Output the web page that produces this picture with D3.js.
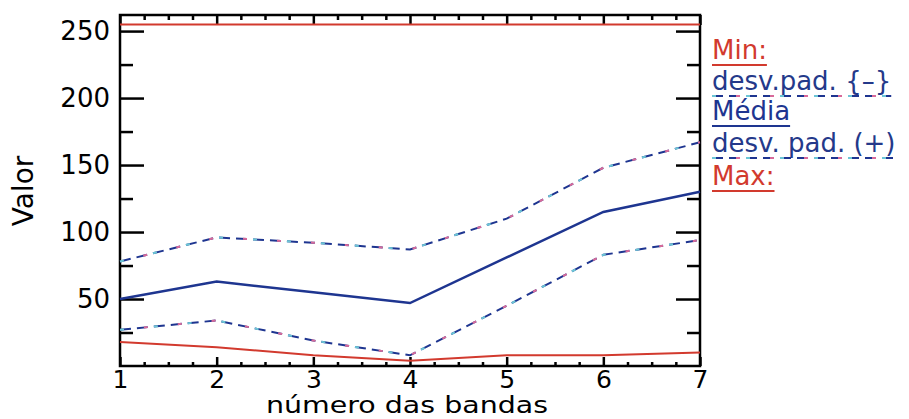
<!DOCTYPE html>
<html>
<head>
<meta charset="utf-8">
<script src="https://cdn.jsdelivr.net/npm/d3@7"></script>
<style>
  html, body { margin: 0; padding: 0; background: #fff; }
  svg { display: block; }
  text { font-family: "DejaVu Sans", sans-serif; }
</style>
</head>
<body>
<svg id="chart" width="909" height="419"></svg>
<script>
// Band statistics per band number
const bands   = [1, 2, 3, 4, 5, 6, 7];
const minVals = [18, 14, 8, 4, 8, 8, 10];
const sdLow   = [27, 34, 19, 8, 45, 83, 94];
const meanVals= [50, 63, 55, 47, 81, 115, 130];
const sdHigh  = [78, 96, 92, 87, 110, 148, 167];
const maxVals = [255, 255, 255, 255, 255, 255, 255];

const yMajorTicks = [50, 100, 150, 200, 250];
const yMinorTicks = [25, 75, 125, 175, 225];
const xMajorTicks = [1, 2, 3, 4, 5, 6, 7];
const xMinorTicks = d3.range(1, 7.001, 0.25).filter(v => Math.abs(v - Math.round(v)) > 1e-6);

const legendLabels = ["Min:", "desv.pad. {–}", "Média", "desv. pad. (+)", "Max:"];

const RED = "#d23a2e", NAVY = "#1e3590", TXTBLUE = "#24398a";
const CYAN = "#6cc6d6", PINK = "#d86a9a";

const svg = d3.select("#chart");
const x = d3.scaleLinear().domain([1, 7]).range([120, 700]);
const y = d3.scaleLinear().domain([0, 262]).range([366, 15]);

const line = d3.line().x((d, i) => x(bands[i])).y(d => y(d));

// Axes: ticks point inward on all four sides
function styleAxis(size) {
  return g => {
    g.select(".domain").remove();
    g.selectAll(".tick line").attr("stroke", "#000").attr("stroke-width", 2.5);
    g.selectAll(".tick text").attr("fill", "#000").style("font-size", size)
      .style("font-family", "DejaVu Sans, sans-serif");
  };
}

svg.append("g").attr("transform", "translate(120,0)")
  .call(d3.axisLeft(y).tickValues(yMajorTicks).tickSize(-24).tickPadding(10))
  .call(styleAxis("26px"));
svg.append("g").attr("transform", "translate(120,0)")
  .call(d3.axisLeft(y).tickValues(yMinorTicks).tickSize(-13).tickFormat(""))
  .call(styleAxis("26px"));
svg.append("g").attr("transform", "translate(700,0)")
  .call(d3.axisRight(y).tickValues(yMajorTicks).tickSize(-24).tickFormat(""))
  .call(styleAxis("26px"));
svg.append("g").attr("transform", "translate(700,0)")
  .call(d3.axisRight(y).tickValues(yMinorTicks).tickSize(-13).tickFormat(""))
  .call(styleAxis("26px"));

svg.append("g").attr("transform", "translate(0,366)")
  .call(d3.axisBottom(x).tickValues(xMajorTicks).tickSize(-9).tickPadding(4).tickFormat(d3.format("d")))
  .call(styleAxis("25px"));
svg.append("g").attr("transform", "translate(0,366)")
  .call(d3.axisBottom(x).tickValues(xMinorTicks).tickSize(-4).tickFormat(""))
  .call(styleAxis("25px"));
svg.append("g").attr("transform", "translate(0,15)")
  .call(d3.axisTop(x).tickValues(xMajorTicks).tickSize(-10).tickFormat(""))
  .call(styleAxis("25px"));
svg.append("g").attr("transform", "translate(0,15)")
  .call(d3.axisTop(x).tickValues(xMinorTicks).tickSize(-5).tickFormat(""))
  .call(styleAxis("25px"));

// Plot frame
svg.append("rect")
  .attr("x", x(1)).attr("y", y(262))
  .attr("width", x(7) - x(1)).attr("height", y(0) - y(262))
  .attr("fill", "none").attr("stroke", "#000").attr("stroke-width", 2.5);

// Dashed stroke made of navy dashes tinted cyan and pink
function dashed(sel, d) {
  sel.append("path").attr("d", d).attr("fill", "none")
    .attr("stroke", NAVY).attr("stroke-width", 2).attr("stroke-dasharray", "11,6");
  sel.append("path").attr("d", d).attr("fill", "none")
    .attr("stroke", CYAN).attr("stroke-width", 2).attr("stroke-dasharray", "4,30");
  sel.append("path").attr("d", d).attr("fill", "none")
    .attr("stroke", PINK).attr("stroke-width", 2).attr("stroke-dasharray", "4,30")
    .attr("stroke-dashoffset", -24);
}
function solid(sel, d, color, w) {
  sel.append("path").attr("d", d).attr("fill", "none")
    .attr("stroke", color).attr("stroke-width", w);
}

const series = svg.append("g");
solid(series, line(maxVals), RED, 2);
solid(series, line(minVals), RED, 2);
dashed(series, line(sdLow));
dashed(series, line(sdHigh));
solid(series, line(meanVals), NAVY, 2.5);

// Axis titles
svg.append("text").attr("x", 407).attr("y", 413).attr("text-anchor", "middle")
  .attr("textLength", 282).attr("lengthAdjust", "spacingAndGlyphs")
  .style("font-size", "23px").attr("fill", "#000").text("número das bandas");
svg.append("text").attr("transform", "translate(33,191) rotate(-90)")
  .attr("text-anchor", "middle").style("font-size", "28px").attr("fill", "#000").text("Valor");

// Legend with underlines styled like each series
const legendStyles = [
  { color: RED, kind: "solid" },
  { color: TXTBLUE, kind: "dashed" },
  { color: NAVY, kind: "solid" },
  { color: TXTBLUE, kind: "dashed" },
  { color: RED, kind: "solid" }
];
const legendY = [59, 90, 120, 152, 185];
const legend = svg.append("g");
legendLabels.forEach((label, i) => {
  const t = legend.append("text").attr("x", 712).attr("y", legendY[i])
    .style("font-size", "26px").attr("fill", legendStyles[i].color).text(label);
  const w = t.node().getComputedTextLength();
  const uy = legendY[i] + 6;
  const d = `M712,${uy}H${712 + w}`;
  if (legendStyles[i].kind === "solid") solid(legend, d, legendStyles[i].color, 2);
  else dashed(legend, d);
});
</script>
</body>
</html>
